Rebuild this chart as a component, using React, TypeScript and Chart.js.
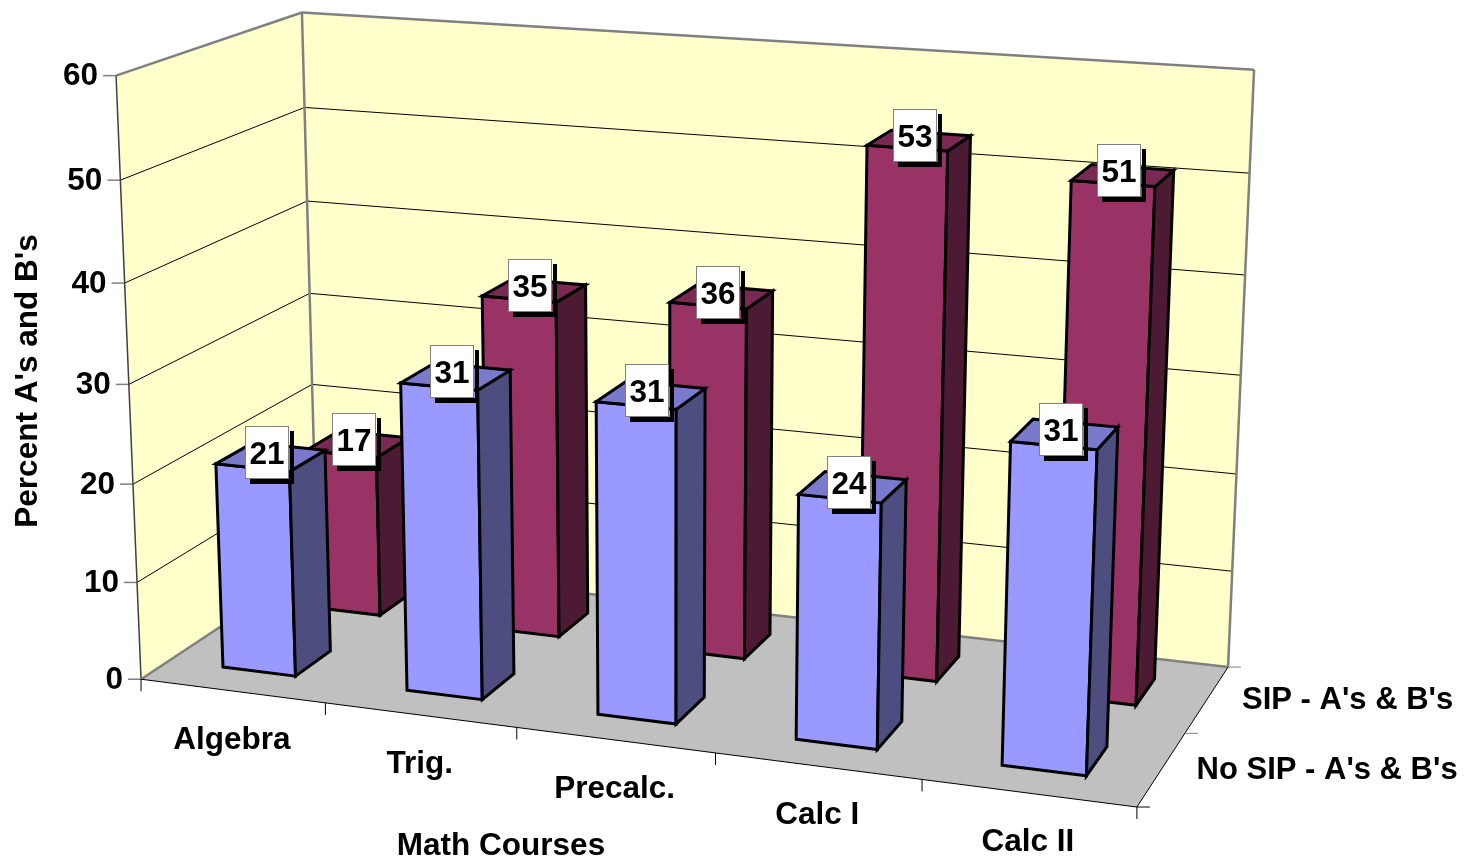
import React, { useEffect, useRef } from "react";
import { Chart, registerables } from "chart.js";

Chart.register(...registerables);

const categories = ["Algebra", "Trig.", "Precalc.", "Calc I", "Calc II"];
const noSipValues = [21, 31, 31, 24, 31];
const sipValues = [17, 35, 36, 53, 51];
const seriesNames = ["No SIP - A's & B's", "SIP - A's & B's"];
const yTicksMax = 60;
const yStep = 10;
const xTitle = "Math Courses";
const yTitle = "Percent A's and B's";

// Where the corners of the unit box (x, height, depth) sit in the picture.
const BOX_CORNERS: [number, number, number, number, number][] = [
  [0, 0, 0, 141, 678],
  [1, 0, 0, 1137, 808],
  [1, 0, 1, 1228, 666],
  [0, 0, 1, 317, 564],
  [0, 1, 0, 116, 76],
  [0, 1, 1, 302, 12],
  [1, 1, 1, 1254, 70],
];

function solve(A: number[][], b: number[]) {
  const n = b.length;
  const M = A.map((r, i) => [...r, b[i]]);
  for (let c = 0; c < n; c++) {
    let p = c;
    for (let r = c + 1; r < n; r++) if (Math.abs(M[r][c]) > Math.abs(M[p][c])) p = r;
    [M[c], M[p]] = [M[p], M[c]];
    for (let r = 0; r < n; r++) {
      if (r === c) continue;
      const f = M[r][c] / M[c][c];
      for (let k = c; k <= n; k++) M[r][k] -= f * M[c][k];
    }
  }
  return M.map((r, i) => r[n] / r[i]);
}

function fitProjection() {
  const rows: number[][] = [];
  const rhs: number[] = [];
  for (const [X, Y, Z, x, y] of BOX_CORNERS) {
    rows.push([X, Y, Z, 1, 0, 0, 0, 0, -x * X, -x * Y, -x * Z]);
    rhs.push(x);
    rows.push([0, 0, 0, 0, X, Y, Z, 1, -y * X, -y * Y, -y * Z]);
    rhs.push(y);
  }
  const n = 11;
  const AtA = Array.from({ length: n }, (_, i) =>
    Array.from({ length: n }, (_, j) => rows.reduce((s, r) => s + r[i] * r[j], 0))
  );
  const Atb = Array.from({ length: n }, (_, i) => rows.reduce((s, r, k) => s + r[i] * rhs[k], 0));
  return solve(AtA, Atb);
}

const P = fitProjection();
function project(u: number, v: number, w: number): [number, number] {
  const d = P[8] * u + P[9] * v + P[10] * w + 1;
  return [(P[0] * u + P[1] * v + P[2] * w + P[3]) / d, (P[4] * u + P[5] * v + P[6] * w + P[7]) / d];
}

const FONT = "bold 31.5px 'Liberation Sans', Arial, sans-serif";
const FONT_DEPTH = "bold 31px 'Liberation Sans', Arial, sans-serif";
const BAR_DEPTH = 0.2;
const BAR_LEFT_PAD = 2.5;

function poly(ctx: CanvasRenderingContext2D, pts: [number, number][], fill?: string, stroke?: string, lw = 1) {
  ctx.beginPath();
  pts.forEach((p, i) => (i ? ctx.lineTo(p[0], p[1]) : ctx.moveTo(p[0], p[1])));
  ctx.closePath();
  if (fill) {
    ctx.fillStyle = fill;
    ctx.fill();
  }
  if (stroke) {
    ctx.strokeStyle = stroke;
    ctx.lineWidth = lw;
    ctx.stroke();
  }
}

function seg(ctx: CanvasRenderingContext2D, a: [number, number], b: [number, number], color: string, lw: number) {
  ctx.beginPath();
  ctx.moveTo(a[0], a[1]);
  ctx.lineTo(b[0], b[1]);
  ctx.strokeStyle = color;
  ctx.lineWidth = lw;
  ctx.stroke();
}

const box3dPlugin = {
  id: "box3d",
  beforeDatasetsDraw(chart: any) {
    const ctx: CanvasRenderingContext2D = chart.ctx;
    const { left, top, width, height } = chart.chartArea;
    const yScale = chart.scales.y;
    const xScale = chart.scales.x;
    const toU = (px: number) => (px - left) / width;
    const toV = (py: number) => 1 - (py - top) / height;
    const GRAY = "#808080";

    ctx.save();
    // walls and floor
    poly(ctx, [project(0, 0, 0), project(0, 1, 0), project(0, 1, 1), project(0, 0, 1)], "#FFFFCC");
    poly(ctx, [project(0, 0, 1), project(0, 1, 1), project(1, 1, 1), project(1, 0, 1)], "#FFFFCC");
    poly(ctx, [project(0, 0, 0), project(1, 0, 0), project(1, 0, 1), project(0, 0, 1)], "#C0C0C0");

    // gridlines and value ticks
    for (const t of yScale.ticks) {
      const v = toV(yScale.getPixelForValue(t.value));
      if (v > 0.001 && v < 0.999) {
        seg(ctx, project(0, v, 0), project(0, v, 1), "#000", 1);
        seg(ctx, project(0, v, 1), project(1, v, 1), "#000", 1);
      }
      const p = project(0, v, 0);
      seg(ctx, [p[0] - 13, p[1]], p, GRAY, 1.5);
    }

    // wall edges
    seg(ctx, project(0, 0, 0), project(0, 1, 0), "#404040", 1.5);
    seg(ctx, project(0, 1, 0), project(0, 1, 1), GRAY, 2.5);
    seg(ctx, project(0, 0, 1), project(0, 1, 1), GRAY, 2.5);
    seg(ctx, project(0, 1, 1), project(1, 1, 1), GRAY, 2.5);
    seg(ctx, project(1, 0, 1), project(1, 1, 1), GRAY, 2.5);
    seg(ctx, project(0, 0, 0), project(0, 0, 1), GRAY, 2.5);
    seg(ctx, project(0, 0, 1), project(1, 0, 1), GRAY, 2.5);
    seg(ctx, project(0, 0, 0), project(1, 0, 0), "#000", 1);
    seg(ctx, project(1, 0, 0), project(1, 0, 1), "#000", 1);

    // category ticks
    for (let i = 0; i <= categories.length; i++) {
      const p = project(i / categories.length, 0, 0);
      seg(ctx, p, [p[0], p[1] + 12], "#000", 1);
    }
    // depth ticks
    const nSeries = chart.data.datasets.length;
    for (let i = 0; i <= nSeries; i++) {
      const p = project(1, 0, i / nSeries);
      seg(ctx, p, [p[0] + 13, p[1]], i === 0 ? "#000" : GRAY, 1);
    }

    // bars, back row first
    ctx.lineJoin = "miter";
    const labels: { x: number; y: number; text: string }[] = [];
    for (let d = nSeries - 1; d >= 0; d--) {
      const ds = chart.data.datasets[d];
      const meta = chart.getDatasetMeta(d);
      const wc = (d + 0.5) / nSeries;
      const w0 = wc - BAR_DEPTH / 2;
      const w1 = wc + BAR_DEPTH / 2;
      meta.data.forEach((bar: any, j: number) => {
        const u0 = toU(bar.x - bar.width / 2 - BAR_LEFT_PAD);
        const u1 = toU(bar.x + bar.width / 2);
        const vTop = toV(bar.y);
        const vBase = toV(bar.base);
        poly(ctx, [project(u0, vBase, w0), project(u1, vBase, w0), project(u1, vTop, w0), project(u0, vTop, w0)], ds.backgroundColor, "#000", 3);
        poly(ctx, [project(u1, vBase, w0), project(u1, vBase, w1), project(u1, vTop, w1), project(u1, vTop, w0)], ds.sideColor, "#000", 3);
        poly(ctx, [project(u0, vTop, w0), project(u1, vTop, w0), project(u1, vTop, w1), project(u0, vTop, w1)], ds.topColor, "#000", 3);
        const c = project((u0 + u1) / 2, vTop, wc);
        labels.push({ x: c[0] - 4, y: c[1] - 4.5, text: String(ds.data[j]) });
      });
    }

    // text
    ctx.font = FONT;
    ctx.fillStyle = "#000";
    ctx.textBaseline = "middle";

    for (const l of labels) {
      const bw = 44;
      const bh = 53;
      const x = Math.round(l.x - bw / 2);
      const y = Math.round(l.y - bh / 2);
      ctx.fillStyle = "#000";
      ctx.fillRect(x + bw + 1, y + 5, 4, bh);
      ctx.fillRect(x + 5, y + bh, bw, 5);
      ctx.fillStyle = "#fff";
      ctx.fillRect(x, y, bw, bh);
      ctx.strokeStyle = "#808080";
      ctx.lineWidth = 1;
      ctx.strokeRect(x + 0.5, y + 0.5, bw - 1, bh - 1);
      ctx.fillStyle = "#000";
      ctx.textAlign = "center";
      ctx.fillText(l.text, x + bw / 2, y + bh / 2 + 3);
    }

    ctx.textAlign = "right";
    for (const t of yScale.ticks) {
      const v = toV(yScale.getPixelForValue(t.value));
      const p = project(0, v, 0);
      ctx.fillText(t.label, p[0] - 18, p[1] + 1);
    }

    ctx.textAlign = "center";
    xScale.ticks.forEach((_: any, i: number) => {
      const u = toU(xScale.getPixelForTick(i));
      const p = project(u, 0, 0);
      ctx.fillText(xScale.getLabelForValue(i), p[0] - 0.5, p[1] + 49);
    });
    ctx.fillText(xScale.options.title.text, 501, 846);

    ctx.textAlign = "left";
    ctx.font = FONT_DEPTH;
    chart.data.datasets.forEach((ds: any, d: number) => {
      const p = project(1, 0, (d + 0.5) / nSeries);
      ctx.fillText(ds.label, p[0] + 35, p[1] + 1.5);
    });
    ctx.font = FONT;

    ctx.save();
    ctx.translate(28, 381);
    ctx.rotate(-Math.PI / 2);
    ctx.textAlign = "center";
    ctx.fillText(yScale.options.title.text, 0, 0);
    ctx.restore();

    ctx.restore();
    return false;
  },
};

export default function App() {
  const ref = useRef<HTMLCanvasElement>(null);
  useEffect(() => {
    const chart = new Chart(ref.current as HTMLCanvasElement, {
      type: "bar",
      data: {
        labels: categories,
        datasets: [
          { label: seriesNames[0], data: noSipValues, backgroundColor: "#9999FF", sideColor: "#4D4D80", topColor: "#7A7ACC", grouped: false, barPercentage: 0.39, categoryPercentage: 1 } as any,
          { label: seriesNames[1], data: sipValues, backgroundColor: "#993366", sideColor: "#4D1A33", topColor: "#7A2952", grouped: false, barPercentage: 0.39, categoryPercentage: 1 } as any,
        ],
      },
      options: {
        responsive: false,
        animation: false,
        devicePixelRatio: 1,
        layout: { padding: 0 },
        plugins: { legend: { display: false }, tooltip: { enabled: false } },
        scales: {
          x: { display: false, offset: true, title: { display: false, text: xTitle } },
          y: { display: false, min: 0, max: yTicksMax, ticks: { stepSize: yStep }, title: { display: false, text: yTitle } },
        },
      },
      plugins: [box3dPlugin],
    } as any);
    return () => chart.destroy();
  }, []);
  return (
    <div style={{ position: "absolute", left: 0, top: 0, width: 1465, height: 860, background: "#fff" }}>
      <canvas ref={ref} width={1465} height={860} style={{ display: "block" }} />
    </div>
  );
}
